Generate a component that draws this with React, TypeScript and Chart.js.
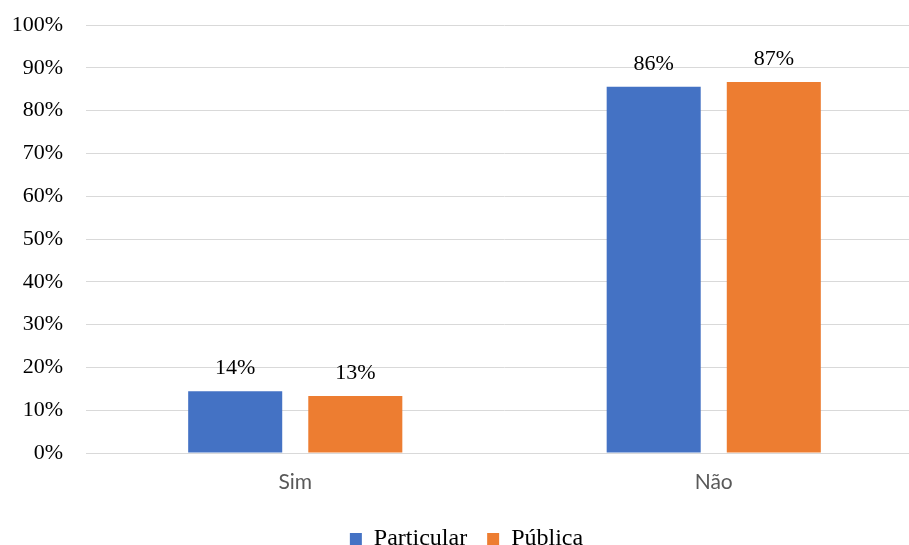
import React, { useEffect, useRef } from "react";
import { Chart, registerables } from "chart.js";

Chart.register(...registerables);

const categories = ["Sim", "Não"];
const particular = [14.4, 85.6];
const publica = [13.3, 86.7];
const seriesNames = ["Particular", "Pública"];
const yTicks = [0, 10, 20, 30, 40, 50, 60, 70, 80, 90, 100];

const SERIF = "'Liberation Serif', 'Times New Roman', serif";
const SANS = "Lato, 'Open Sans', sans-serif";

const dataLabels = {
  id: "dataLabels",
  afterDatasetsDraw(chart: any) {
    const ctx = chart.ctx;
    ctx.save();
    ctx.font = `22px ${SERIF}`;
    ctx.fillStyle = "#000000";
    ctx.textAlign = "center";
    ctx.textBaseline = "alphabetic";
    chart.data.datasets.forEach((ds: any, i: number) => {
      const meta = chart.getDatasetMeta(i);
      meta.data.forEach((el: any, j: number) => {
        const v = ds.data[j];
        ctx.fillText(Math.round(v) + "%", el.x, el.y - 17);
      });
    });
    ctx.restore();
  },
};

export default function App() {
  const ref = useRef<HTMLCanvasElement>(null);
  useEffect(() => {
    if (!ref.current) return;
    const chart = new Chart(ref.current, {
      type: "bar",
      data: {
        labels: categories,
        datasets: [
          { label: seriesNames[0], data: particular, backgroundColor: "#4472C4" },
          { label: seriesNames[1], data: publica, backgroundColor: "#ED7D31" },
        ],
      },
      options: {
        responsive: false,
        animation: false,
        devicePixelRatio: 1,
        layout: { padding: { left: 10, right: 17, top: 25, bottom: 0 } },
        datasets: { bar: { categoryPercentage: 0.574, barPercentage: 0.783 } },
        plugins: {
          legend: {
            position: "bottom",
            labels: {
              boxWidth: 12,
              boxHeight: 12,
              padding: 20,
              color: "#000000",
              font: { family: SERIF, size: 24 },
            },
          },
          tooltip: { enabled: false },
        },
        scales: {
          x: {
            afterFit: (s: any) => { s.height = 54; s.paddingLeft = 0; s.paddingRight = 0; },
            grid: { display: false },
            border: { display: true, color: "#D9D9D9", width: 1 },
            ticks: { color: "#595959", font: { family: SANS, size: 21 }, padding: 9 },
          },
          y: {
            min: 0,
            max: 100,
            afterFit: (s: any) => { s.width = 76; s.paddingTop = 0; s.paddingBottom = 0; },
            afterBuildTicks: (s: any) => { s.ticks = yTicks.map((v) => ({ value: v })); },
            grid: { color: "#D9D9D9", drawTicks: false },
            border: { display: false },
            ticks: {
              color: "#000000",
              padding: 23,
              font: { family: SERIF, size: 22 },
              callback: (v: any) => v + "%",
            },
          },
        },
      },
      plugins: [dataLabels],
    });
    return () => chart.destroy();
  }, []);
  return (
    <div style={{ position: "fixed", left: 0, top: 0, width: 909, height: 545, overflow: "hidden", background: "#fff" }}>
      <canvas ref={ref} width={940} height={561} style={{ display: "block" }} />
    </div>
  );
}
